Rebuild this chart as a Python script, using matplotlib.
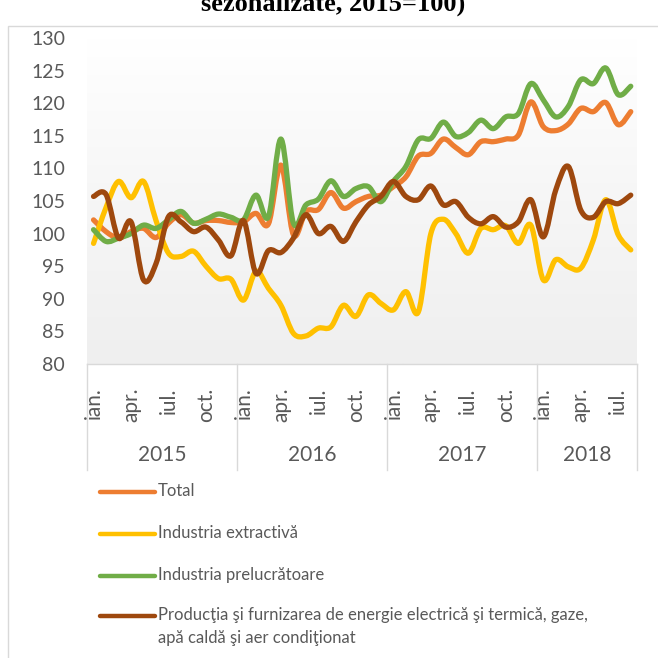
import matplotlib
matplotlib.use('Agg')
import matplotlib.pyplot as plt
from matplotlib.path import Path
from matplotlib.patches import PathPatch, Rectangle
from matplotlib.lines import Line2D
from matplotlib.colors import LinearSegmentedColormap
import numpy as np

# monthly indices, Jan 2015 - Aug 2018 (2015=100)
years = ['2015', '2016', '2017', '2018']
months_per_year = [12, 12, 12, 8]
month_names = ['ian.', 'apr.', 'iul.', 'oct.']

total = [102.1, 100.3, 99.3, 100.3, 100.8, 99.4, 101.6, 102.9, 101.6, 102.0, 102.0, 101.7,
         101.8, 103.1, 101.5, 110.5, 99.8, 103.4, 103.7, 106.3, 103.9, 104.9, 105.7, 105.9,
         107.2, 108.7, 111.9, 112.3, 114.5, 113.2, 112.1, 114.1, 114.1, 114.5, 115.1, 120.2,
         116.4, 115.8, 116.8, 119.2, 118.7, 120.1, 116.7, 118.7]
extractiva = [98.5, 104.0, 108.0, 105.5, 108.0, 102.0, 97.0, 96.5, 97.3, 95.0, 93.1, 93.0,
              89.8, 94.2, 91.6, 89.0, 84.7, 84.3, 85.5, 85.7, 89.0, 87.3, 90.6, 89.3,
              88.3, 91.1, 88.0, 100.0, 102.2, 100.0, 97.0, 100.8, 100.6, 101.2, 98.5, 101.3,
              92.9, 96.0, 94.9, 94.7, 99.0, 105.2, 99.8, 97.5]
prelucratoare = [100.6, 98.8, 99.3, 100.0, 101.3, 100.8, 102.1, 103.4, 101.6, 102.2, 103.0, 102.5,
                 102.1, 105.9, 102.6, 114.5, 101.6, 104.4, 105.3, 108.1, 105.7, 106.9, 107.2, 104.9,
                 108.0, 110.3, 114.4, 114.6, 117.1, 114.9, 115.5, 117.4, 116.1, 117.9, 118.4, 123.0,
                 120.5, 117.9, 119.5, 123.6, 123.0, 125.4, 121.3, 122.6]
energie = [105.7, 106.0, 99.3, 101.8, 92.9, 95.4, 102.6, 101.8, 100.3, 101.0, 99.0, 96.6,
           102.0, 93.9, 97.4, 97.1, 99.3, 102.9, 100.0, 101.1, 98.8, 101.8, 104.4, 105.7,
           108.0, 105.7, 105.2, 107.3, 104.4, 104.9, 102.5, 101.5, 102.6, 101.0, 101.8, 105.2,
           99.5, 106.7, 110.3, 103.6, 102.5, 104.9, 104.6, 105.9]

labels = ['Total', 'Industria extractivă', 'Industria prelucrătoare',
          'Producţia şi furnizarea de energie electrică şi termică, gaze,\napă caldă şi aer condiţionat']
colors = ['#ED7D31', '#FFC000', '#70AD47', '#9E480E']
series = [total, extractiva, prelucratoare, energie]

W = 658.0
def fx(px):
    return px / W
def fy(py):
    return 1 - py / W

TXT = '#595959'
plt.rcParams['font.family'] = ['Lato', 'DejaVu Sans']

fig = plt.figure(figsize=(6.58, 6.58), dpi=100)

# chart frame (left / top edges visible)
fig.add_artist(Rectangle((fx(8), fy(700)), 1.0, fy(26) - fy(700), transform=fig.transFigure,
                         fill=False, edgecolor='#D9D9D9', lw=1))

# last line of the title, cut by the top edge as in the source
fig.text(fx(333), fy(11), 'sezonalizate, 2015=100)', ha='center', va='baseline',
         fontsize=19, fontweight='bold', family='Liberation Serif', color='black')

ax = fig.add_axes([fx(87.3), fy(364), fx(637) - fx(87.3), fy(38) - fy(364)])
n = len(total)
x = np.arange(n)
ax.set_xlim(-0.5, n - 0.5)
ax.set_ylim(80, 130)

# gradient background
cmap = LinearSegmentedColormap.from_list('bg', ['#EFEFEF', '#F6F6F6', '#FFFFFF'])
ax.imshow(np.linspace(0, 1, 256).reshape(-1, 1), extent=[-0.5, n - 0.5, 80, 130],
          origin='lower', aspect='auto', cmap=cmap, zorder=0)


def smooth_path(xs, ys, k=1.0 / 6):
    # Excel-like smoothed line: cubic Bezier through each point
    pts = np.column_stack([xs, ys]).astype(float)
    verts = [pts[0]]
    codes = [Path.MOVETO]
    for i in range(len(pts) - 1):
        p0 = pts[i - 1] if i > 0 else pts[i]
        p1 = pts[i]
        p2 = pts[i + 1]
        p3 = pts[i + 2] if i + 2 < len(pts) else pts[i + 1]
        c1 = p1 + (p2 - p0) * k
        c2 = p2 - (p3 - p1) * k
        verts += [c1, c2, p2]
        codes += [Path.CURVE4] * 3
    return Path(verts, codes)


for z, (ys, c) in enumerate(zip(series, colors)):
    patch = PathPatch(smooth_path(x, ys), facecolor='none', edgecolor=c, lw=3.8,
                      capstyle='round', joinstyle='round', zorder=3 + z)
    ax.add_patch(patch)

ax.set_yticks(np.arange(80, 131, 5))
ax.tick_params(axis='y', length=0, pad=16, labelsize=14, labelcolor=TXT)

# month ticks every 3 months
tick_pos = []
tick_lab = []
start = 0
for yr, m in zip(years, months_per_year):
    for j in range(0, m, 3):
        tick_pos.append(start + j)
        tick_lab.append(month_names[j // 3])
    start += m
ax.set_xticks(tick_pos)
ax.set_xticklabels(tick_lab, rotation=90)
ax.tick_params(axis='x', length=0, pad=17, labelsize=15, labelcolor=TXT)

for s in ['top', 'right', 'left']:
    ax.spines[s].set_visible(False)
ax.spines['bottom'].set_color('#D9D9D9')
ax.spines['bottom'].set_linewidth(1)

# year grouping
trans = ax.get_xaxis_transform()
bottom_y = (364 - 470) / (364 - 38)
year_y = (364 - 455) / (364 - 38)
edge = -0.5
ax.plot([edge, edge], [0, bottom_y], transform=trans, color='#D9D9D9', lw=1, clip_on=False)
for yr, m in zip(years, months_per_year):
    ax.text(edge + m / 2, year_y, yr, transform=trans, ha='center', va='center',
            fontsize=15, color=TXT)
    edge += m
    ax.plot([edge, edge], [0, bottom_y], transform=trans, color='#D9D9D9', lw=1, clip_on=False)

# legend
leg_y = [492, 534, 576, 616]
for lab, c, ly in zip(labels, colors, leg_y):
    fig.add_artist(Line2D([fx(100), fx(155)], [fy(ly), fy(ly)], transform=fig.transFigure,
                          color=c, lw=3.2, solid_capstyle='round'))
    fig.text(fx(158), fy(ly - 9), lab, ha='left', va='top', fontsize=12, color=TXT,
             linespacing=1.55)

fig.savefig('out.png', dpi=100)
